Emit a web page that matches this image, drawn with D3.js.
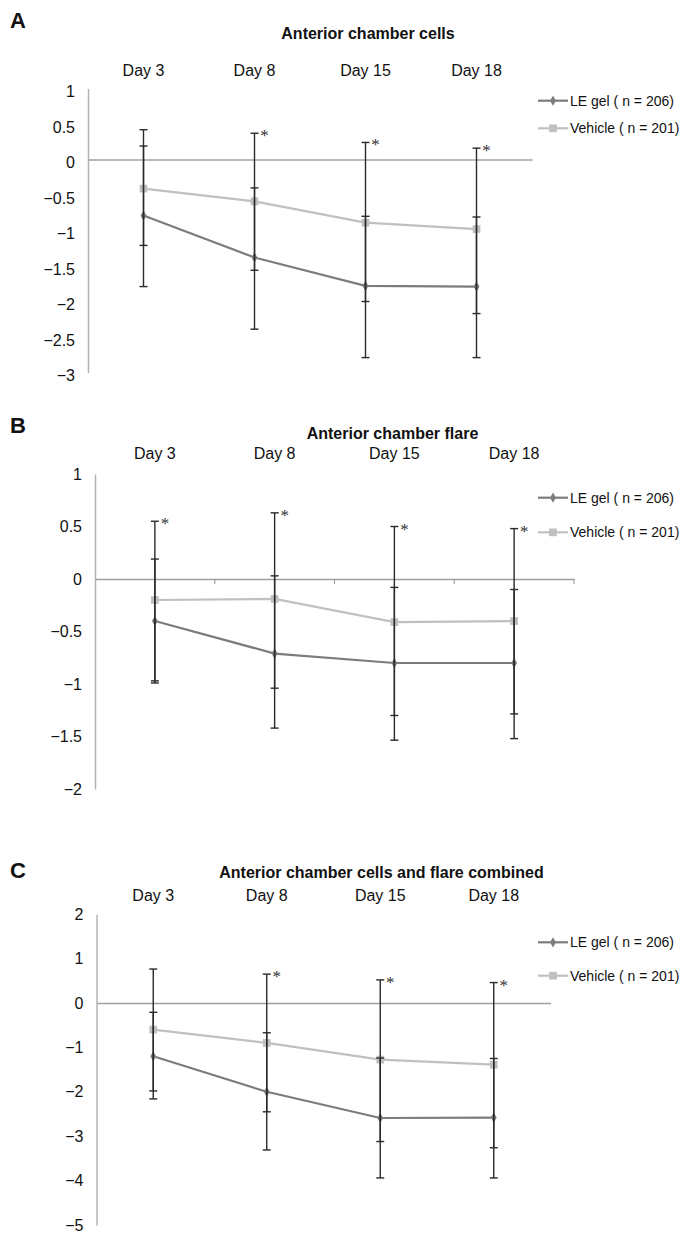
<!DOCTYPE html>
<html><head><meta charset="utf-8">
<script src="https://cdn.jsdelivr.net/npm/d3@7"></script>
<style>body{margin:0;background:#fff} svg{display:block}</style>
</head><body><svg id="chart" width="690" height="1240"></svg>
<script>
// ---------- data ----------
const days = ["Day 3", "Day 8", "Day 15", "Day 18"];
const seriesNames = ["LE gel ( n = 206)", "Vehicle ( n = 201)"];
const panelLetters = ["A", "B", "C"];
const panelTitles = ["Anterior chamber cells", "Anterior chamber flare", "Anterior chamber cells and flare combined"];

// Panel A: anterior chamber cells
const cellsLE = [-0.79, -1.38, -1.78, -1.79];
const cellsLEHigh = [0.19, -0.40, -0.80, -0.81];
const cellsLELow = [-1.79, -2.39, -2.79, -2.79];
const cellsVeh = [-0.41, -0.59, -0.89, -0.98];
const cellsVehHigh = [0.42, 0.37, 0.24, 0.16];
const cellsVehLow = [-1.21, -1.56, -2.00, -2.17];
const cellsSig = [false, true, true, true];
const cellsDomain = [-3, 1];
const cellsTicks = [1, 0.5, 0, -0.5, -1, -1.5, -2, -2.5, -3];

// Panel B: anterior chamber flare
const flareLE = [-0.40, -0.71, -0.80, -0.80];
const flareLEHigh = [0.19, 0.03, -0.08, -0.10];
const flareLELow = [-0.99, -1.42, -1.535, -1.52];
const flareVeh = [-0.20, -0.19, -0.41, -0.40];
const flareVehHigh = [0.55, 0.63, 0.50, 0.48];
const flareVehLow = [-0.97, -1.04, -1.30, -1.285];
const flareSig = [true, true, true, true];
const flareDomain = [-2, 1];
const flareTicks = [1, 0.5, 0, -0.5, -1, -1.5, -2];

// Panel C: cells and flare combined
const combLE = [-1.20, -2.00, -2.59, -2.58];
const combLEHigh = [-0.21, -0.67, -1.24, -1.25];
const combLELow = [-2.16, -3.31, -3.94, -3.94];
const combVeh = [-0.60, -0.90, -1.275, -1.39];
const combVehHigh = [0.765, 0.65, 0.52, 0.46];
const combVehLow = [-1.98, -2.45, -3.12, -3.26];
const combSig = [false, true, true, true];
const combDomain = [-5, 2];
const combTicks = [2, 1, 0, -1, -2, -3, -4, -5];

// ---------- drawing ----------
const svg = d3.select("#chart");
const FONT = "'Liberation Sans', Arial, Helvetica, sans-serif";
const colLE = "#7c7c7c", colVeh = "#c0c0c0", colErr = "#2a2a2a";

const layouts = [
  {left: 88, right: 532, yTop: 88.5, yBot: 372.5, letterY: 20, titleY: 33, dayY: 70, legY: [100.7, 128.3], boundaryTicks: false, tickDy: 3},
  {left: 95, right: 574, yTop: 474, yBot: 789, letterY: 425, titleY: 433, dayY: 453, legY: [497.7, 532.3], boundaryTicks: true, tickDy: 0},
  {left: 96.5, right: 550.5, yTop: 914.2, yBot: 1225, letterY: 870, titleY: 872, dayY: 895, legY: [942.3, 975.7], boundaryTicks: false, tickDy: 0}
];

const panels = [
  {le: cellsLE, leHi: cellsLEHigh, leLo: cellsLELow, veh: cellsVeh, vehHi: cellsVehHigh, vehLo: cellsVehLow, sig: cellsSig, domain: cellsDomain, ticks: cellsTicks},
  {le: flareLE, leHi: flareLEHigh, leLo: flareLELow, veh: flareVeh, vehHi: flareVehHigh, vehLo: flareVehLow, sig: flareSig, domain: flareDomain, ticks: flareTicks},
  {le: combLE, leHi: combLEHigh, leLo: combLELow, veh: combVeh, vehHi: combVehHigh, vehLo: combVehLow, sig: combSig, domain: combDomain, ticks: combTicks}
];

const fmt = d3.format("~g");

panels.forEach((p, i) => {
  const L = layouts[i];
  const g = svg.append("g");
  const x = d3.scaleBand().domain(days).range([L.left, L.right]).paddingInner(0).paddingOuter(0);
  const y = d3.scaleLinear().domain(p.domain).range([L.yBot, L.yTop]);
  const cx = d => x(d) + x.bandwidth() / 2;

  // panel letter + title
  g.append("text").attr("x", 18).attr("y", L.letterY).attr("dy", "0.36em")
    .attr("text-anchor", "middle").attr("font-family", FONT).attr("font-weight", "bold")
    .attr("font-size", 22).attr("fill", "#111").text(panelLetters[i]);
  g.append("text").attr("x", (L.left + L.right) / 2 + 58).attr("y", L.titleY).attr("dy", "0.36em")
    .attr("text-anchor", "middle").attr("font-family", FONT).attr("font-weight", "bold")
    .attr("font-size", 16).attr("fill", "#111").text(panelTitles[i]);

  // day labels on top
  g.selectAll(".day").data(days).join("text")
    .attr("x", d => cx(d)).attr("y", L.dayY).attr("dy", "0.36em")
    .attr("text-anchor", "middle").attr("font-family", FONT).attr("font-size", 16)
    .attr("fill", "#111").text(d => d);

  // y axis
  const yAxis = d3.axisLeft(y).tickValues(p.ticks).tickFormat(fmt).tickSize(0).tickPadding(13);
  const ya = g.append("g").attr("transform", `translate(${L.left},0)`).call(yAxis);
  ya.select(".domain").attr("stroke", "#b4b4b4").attr("stroke-width", 1.5);
  ya.selectAll("text").attr("font-family", FONT).attr("font-size", 16).attr("fill", "#111")
    .attr("dy", (L.tickDy ? `calc(0.32em + ${L.tickDy}px)` : "0.32em"));
  ya.selectAll(".tick text").attr("transform", `translate(0,${L.tickDy})`).attr("dy", "0.32em");

  // zero line (category axis)
  const xa = d3.axisBottom(x).tickSize(0).tickFormat("");
  const xg = g.append("g").attr("transform", `translate(0,${y(0)})`).call(xa);
  xg.select(".domain").attr("stroke", "#a0a0a0").attr("stroke-width", 1.5);
  xg.selectAll(".tick").remove();
  if (L.boundaryTicks) {
    const bounds = days.map(d => x(d) + x.bandwidth()).concat([]);
    g.selectAll(".bt").data(bounds).join("line")
      .attr("x1", d => d).attr("x2", d => d).attr("y1", y(0)).attr("y2", y(0) + 5)
      .attr("stroke", "#a0a0a0").attr("stroke-width", 1.2);
  }

  const line = d3.line().x((d, j) => cx(days[j])).y(d => y(d));

  // series lines
  g.append("path").datum(p.le).attr("d", line).attr("fill", "none").attr("stroke", colLE).attr("stroke-width", 2.2);
  g.append("path").datum(p.veh).attr("d", line).attr("fill", "none").attr("stroke", colVeh).attr("stroke-width", 2.2);

  // markers
  g.selectAll(".mk-le").data(p.le).join("path")
    .attr("transform", (d, j) => `translate(${cx(days[j])},${y(d)})`)
    .attr("d", d3.symbol(d3.symbolDiamond, 30)()).attr("fill", colLE);
  g.selectAll(".mk-veh").data(p.veh).join("path")
    .attr("transform", (d, j) => `translate(${cx(days[j])},${y(d)})`)
    .attr("d", d3.symbol(d3.symbolSquare, 60)()).attr("fill", colVeh);

  // error bars
  const errs = [];
  days.forEach((d, j) => {
    errs.push({x: cx(d), lo: p.leLo[j], hi: p.leHi[j]});
    errs.push({x: cx(d), lo: p.vehLo[j], hi: p.vehHi[j]});
  });
  const eg = g.append("g").attr("stroke", colErr).attr("stroke-width", 1.4);
  errs.forEach(e => {
    eg.append("line").attr("x1", e.x).attr("x2", e.x).attr("y1", y(e.lo)).attr("y2", y(e.hi));
    eg.append("line").attr("x1", e.x - 4).attr("x2", e.x + 4).attr("y1", y(e.lo)).attr("y2", y(e.lo));
    eg.append("line").attr("x1", e.x - 4).attr("x2", e.x + 4).attr("y1", y(e.hi)).attr("y2", y(e.hi));
  });

  // significance asterisks
  g.selectAll(".ast").data(days.filter((d, j) => p.sig[j])).join("text")
    .attr("x", d => cx(d) + 10).attr("y", d => y(d3.max([p.leHi[days.indexOf(d)], p.vehHi[days.indexOf(d)]])) + 8)
    .attr("text-anchor", "middle").attr("font-family", "'Liberation Serif', 'Times New Roman', serif")
    .attr("font-size", 17).attr("fill", "#333").text("*");

  // legend
  const lg = g.append("g");
  [colLE, colVeh].forEach((c, k) => {
    const ly = L.legY[k];
    lg.append("line").attr("x1", 538).attr("x2", 568).attr("y1", ly).attr("y2", ly)
      .attr("stroke", c).attr("stroke-width", 2.2);
    lg.append("path").attr("transform", `translate(553,${ly})`)
      .attr("d", d3.symbol(k === 0 ? d3.symbolDiamond : d3.symbolSquare, k === 0 ? 30 : 60)())
      .attr("fill", c);
    lg.append("text").attr("x", 570).attr("y", ly).attr("dy", "0.35em")
      .attr("font-family", FONT).attr("font-size", 14).attr("fill", "#111").text(seriesNames[k]);
  });
});
</script></body></html>
